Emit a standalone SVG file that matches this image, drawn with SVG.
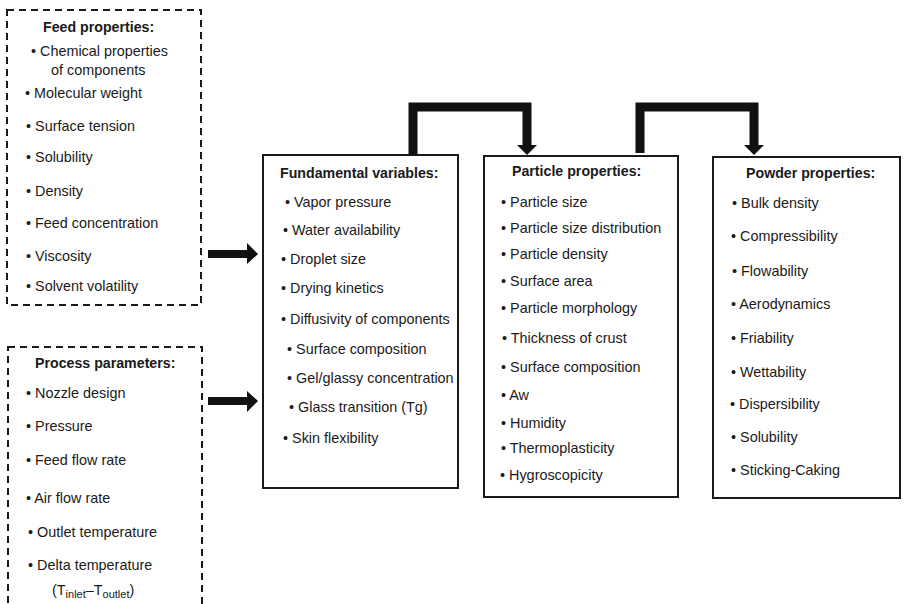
<svg xmlns="http://www.w3.org/2000/svg" width="905" height="604" viewBox="0 0 905 604">
<style>
text{font-family:"Liberation Sans",Arial,Helvetica,sans-serif;font-size:14.4px;fill:#1a1a1a}
.h{font-weight:bold;font-size:14.2px}
.dash{fill:none;stroke:#1a1a1a;stroke-width:2;stroke-dasharray:7 5}
.box{fill:none;stroke:#1a1a1a;stroke-width:2}
.con{fill:none;stroke:#111;stroke-width:9;stroke-linejoin:miter}
.sh{stroke:#111;stroke-width:8}
.hd{fill:#111}
</style>
<rect width="905" height="604" fill="#fff"/>
<g id="feed">
<rect class="dash" x="7" y="10" width="194" height="295"/>
<text class="h" x="43" y="32">Feed properties:</text>
<text x="31" y="56">• Chemical properties</text>
<text x="51" y="75">of components</text>
<text x="25" y="98">• Molecular weight</text>
<text x="26" y="131">• Surface tension</text>
<text x="26" y="162">• Solubility</text>
<text x="26" y="196">• Density</text>
<text x="26" y="228">• Feed concentration</text>
<text x="26" y="261">• Viscosity</text>
<text x="26" y="291">• Solvent volatility</text>
</g>
<g id="process">
<rect class="dash" x="8" y="347" width="194" height="270"/>
<text class="h" x="35" y="368">Process parameters:</text>
<text x="26" y="398">• Nozzle design</text>
<text x="26" y="431">• Pressure</text>
<text x="26" y="465">• Feed flow rate</text>
<text x="26" y="503">• Air flow rate</text>
<text x="28" y="537">• Outlet temperature</text>
<text x="28" y="570">• Delta temperature</text>
<text x="52" y="595" font-size="16">(T<tspan font-size="11" dy="3">inlet</tspan><tspan dy="-3">–T</tspan><tspan font-size="11" dy="3">outlet</tspan><tspan dy="-3">)</tspan></text>
</g>
<g id="fundamental">
<rect class="box" x="263" y="155" width="195" height="333"/>
<text class="h" x="280" y="178">Fundamental variables:</text>
<text x="285" y="207">• Vapor pressure</text>
<text x="283" y="235">• Water availability</text>
<text x="281" y="264">• Droplet size</text>
<text x="281" y="293">• Drying kinetics</text>
<text x="281" y="324">• Diffusivity of components</text>
<text x="287" y="354">• Surface composition</text>
<text x="287" y="383">• Gel/glassy concentration</text>
<text x="289" y="412">• Glass transition (Tg)</text>
<text x="283" y="443">• Skin flexibility</text>
</g>
<g id="particle">
<rect class="box" x="484" y="156" width="194" height="341"/>
<text class="h" x="512" y="176">Particle properties:</text>
<text x="501" y="207">• Particle size</text>
<text x="501" y="233">• Particle size distribution</text>
<text x="501" y="259">• Particle density</text>
<text x="501" y="286">• Surface area</text>
<text x="501" y="313">• Particle morphology</text>
<text x="502" y="343">• Thickness of crust</text>
<text x="501" y="372">• Surface composition</text>
<text x="501" y="400">• Aw</text>
<text x="501" y="428">• Humidity</text>
<text x="501" y="453">• Thermoplasticity</text>
<text x="500" y="480">• Hygroscopicity</text>
</g>
<g id="powder">
<rect class="box" x="713" y="157" width="187" height="341"/>
<text class="h" x="746" y="178">Powder properties:</text>
<text x="732" y="208">• Bulk density</text>
<text x="731" y="241">• Compressibility</text>
<text x="732" y="276">• Flowability</text>
<text x="731" y="309">• Aerodynamics</text>
<text x="731" y="343">• Friability</text>
<text x="731" y="377">• Wettability</text>
<text x="730" y="409">• Dispersibility</text>
<text x="731" y="442">• Solubility</text>
<text x="731" y="475">• Sticking-Caking</text>
</g>
<g id="connectors">
<line class="sh" x1="208" y1="254" x2="248" y2="254"/>
<polygon class="hd" points="247,243 247,264 258,254"/>
<line class="sh" x1="208" y1="401" x2="248" y2="401"/>
<polygon class="hd" points="247,391 247,412 258,401"/>
<path class="con" d="M413,155 V107 H527 V146"/>
<polygon class="hd" points="517,145 537,145 527,155"/>
<path class="con" d="M640,153 V107 H754 V146"/>
<polygon class="hd" points="744,145 764,145 754,155"/>
</g>
</svg>
